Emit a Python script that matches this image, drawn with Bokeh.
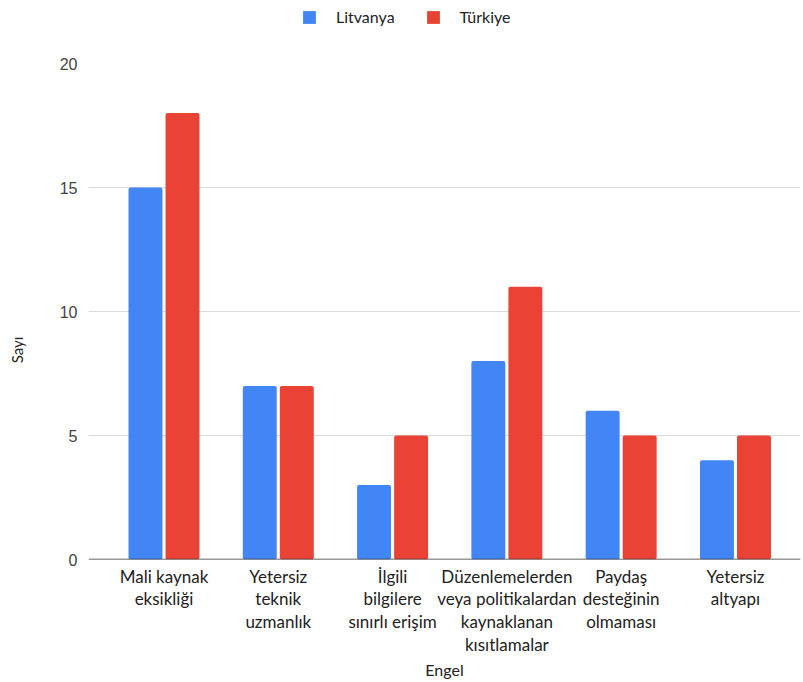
from bokeh.plotting import figure
from bokeh.layouts import column
from bokeh.models import ColumnDataSource, Range1d, FixedTicker, Legend, LegendItem, Span
from bokeh.transform import dodge
from bokeh.embed import file_html
from bokeh.resources import INLINE

categories = [
    "Mali kaynak\neksikliği",
    "Yetersiz\nteknik\nuzmanlık",
    "İlgili\nbilgilere\nsınırlı erişim",
    "Düzenlemelerden\nveya politikalardan\nkaynaklanan\nkısıtlamalar",
    "Paydaş\ndesteğinin\nolmaması",
    "Yetersiz\naltyapı",
]
litvanya = [15, 7, 3, 8, 6, 4]
turkiye = [18, 7, 5, 11, 5, 5]
y_ticks = [0, 5, 10, 15, 20]
series_names = ["Litvanya", "Türkiye"]
colors = ["#4285F4", "#EA4335"]

pos = list(range(len(categories)))
src = ColumnDataSource(dict(x=pos, lit=litvanya, tur=turkiye))

FONT = "Lato"
TOP_H = 51
FRAME_LEFT = 88

# ---- legend strip on top (its bars lie outside its y-range; only the legend shows) ----
lf = figure(width=803, height=TOP_H, output_backend="svg", toolbar_location=None,
            x_range=Range1d(0, 1), y_range=Range1d(100, 101),
            min_border_left=0, min_border_right=0, min_border_top=0, min_border_bottom=0)
lf.outline_line_color = None
lf.axis.visible = False
lf.grid.visible = False
d1 = lf.vbar(x="x", top="lit", width=0.1, source=src, fill_color=colors[0], line_color=None)
d2 = lf.vbar(x="x", top="tur", width=0.1, source=src, fill_color=colors[1], line_color=None)
legend = Legend(items=[LegendItem(label=series_names[0], renderers=[d1]),
                       LegendItem(label=series_names[1], renderers=[d2])],
                location=(301 - FRAME_LEFT, TOP_H - 26), orientation="horizontal",
                glyph_width=16, glyph_height=16, label_standoff=19, spacing=30,
                padding=0, margin=0, border_line_color=None, background_fill_alpha=0,
                label_text_font=FONT, label_text_font_size="16px", label_text_color="#222222")
lf.add_layout(legend)

# ---- main chart ----
p = figure(width=803, height=682 - TOP_H, output_backend="svg", toolbar_location=None,
           x_range=Range1d(-0.6605, 5.569), y_range=Range1d(0, 20),
           min_border_left=FRAME_LEFT, min_border_right=3, min_border_top=63 - TOP_H,
           min_border_bottom=123)
p.outline_line_color = None

r1 = p.vbar(x=dodge("x", -0.162, range=p.x_range), top="lit", width=0.297, source=src,
            fill_color=colors[0], line_color=None, border_radius=2)
r2 = p.vbar(x=dodge("x", 0.162, range=p.x_range), top="tur", width=0.297, source=src,
            fill_color=colors[1], line_color=None, border_radius=2)

p.add_layout(Span(location=0, dimension="width", line_color="#333333", line_width=1.3))

p.xgrid.visible = False
p.ygrid.grid_line_color = "#d9d9d9"
p.ygrid.ticker = FixedTicker(ticks=y_ticks)

xa = p.xaxis[0]
xa.ticker = FixedTicker(ticks=pos)
xa.major_label_overrides = {i: c for i, c in zip(pos, categories)}
xa.axis_line_color = None
xa.major_tick_line_color = None
xa.minor_tick_line_color = None
xa.major_label_standoff = 0
xa.major_label_text_font = FONT
xa.major_label_text_font_size = "17px"
xa.major_label_text_color = "#222222"
xa.major_label_text_line_height = 1.09
xa.axis_label = "Engel"
xa.axis_label_text_font = FONT
xa.axis_label_text_font_size = "16px"
xa.axis_label_text_font_style = "normal"
xa.axis_label_text_color = "#222222"
xa.axis_label_standoff = 2

ya = p.yaxis[0]
ya.ticker = FixedTicker(ticks=y_ticks)
ya.axis_line_color = None
ya.major_tick_line_color = None
ya.minor_tick_line_color = None
ya.major_tick_out = 0
ya.major_label_standoff = 11
ya.major_label_text_font = "Liberation Sans"
ya.major_label_text_font_size = "16px"
ya.major_label_text_color = "#444444"
ya.axis_label = "Sayı" + "\u00a0" * 20
ya.axis_label_text_font = FONT
ya.axis_label_text_font_size = "15px"
ya.axis_label_text_font_style = "normal"
ya.axis_label_text_color = "#222222"
ya.axis_label_standoff = 31

layout = column(lf, p, spacing=0)

open("out.html", "w").write(file_html(layout, INLINE))
